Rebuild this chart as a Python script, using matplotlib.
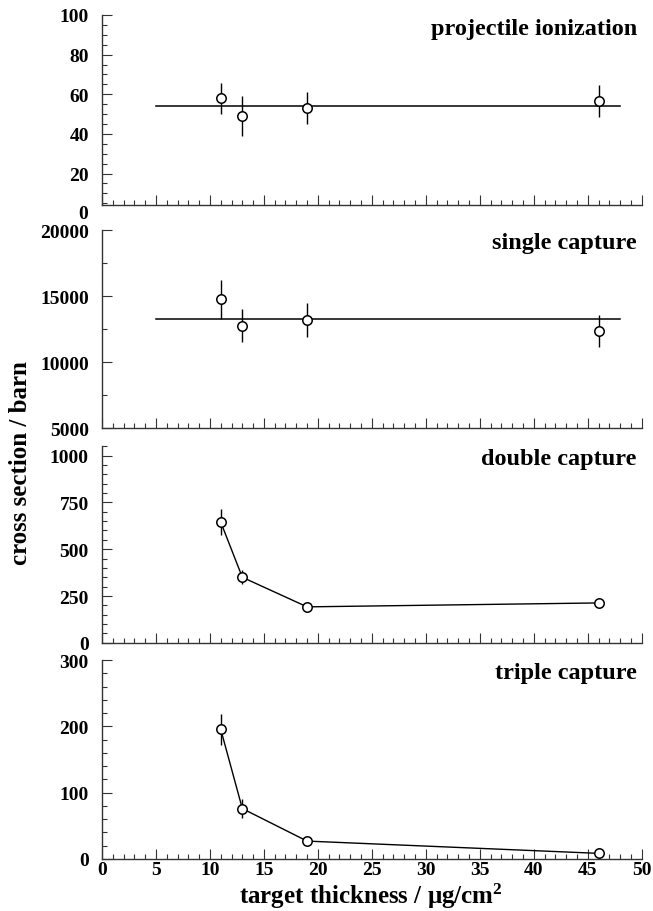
import matplotlib
matplotlib.use("Agg")
import matplotlib.pyplot as plt
from matplotlib.ticker import MultipleLocator
from matplotlib.transforms import blended_transform_factory

plt.rcParams["font.family"] = ["Liberation Serif", "DejaVu Serif"]
plt.rcParams["font.weight"] = "bold"
plt.rcParams["mathtext.fontset"] = "custom"
plt.rcParams["mathtext.rm"] = "Liberation Serif:bold"
plt.rcParams["mathtext.it"] = "Liberation Serif:bold"
plt.rcParams["mathtext.bf"] = "Liberation Serif:bold"

# target thickness (ug/cm^2)
thickness = [11, 13, 19, 46]

# projectile ionization
ion_val = [58.0, 49.0, 53.0, 56.6]
ion_err = [7.8, 10.0, 8.0, 8.0]
ion_fit = 54.0

# single capture
sc_val = [14750, 12770, 13190, 12370]
sc_err = [1460, 1260, 1300, 1200]
sc_fit = 13300

# double capture
dc_val = [645, 350, 192, 213]
dc_err = [68, 37, 12, 10]

# triple capture
tc_val = [195.5, 76.0, 27.0, 8.5]
tc_err = [23.5, 14.0, 3.0, 2.0]

fit_range = [5, 48]

titles = ["projectile ionization", "single capture", "double capture", "triple capture"]
ylims = [(4.3, 100), (5000, 20000), (0, 1053), (0, 300)]
ymajor = [20, 5000, 250, 100]
yminor = [5, 2500, 50, 20]

# axes boxes in pixels (top, bottom) for a 653x912 canvas
boxes_px = [(16, 205.7), (231, 429.3), (446.7, 643.8), (661, 860)]

W, H = 653, 912
fig = plt.figure(figsize=(W / 100, H / 100), dpi=100)
left_px, right_px = 102, 641.7

axes = []
for top, bot in boxes_px:
    ax = fig.add_axes([left_px / W, 1 - bot / H, (right_px - left_px) / W, (bot - top) / H])
    axes.append(ax)

series = [
    (ion_val, ion_err, "fit", ion_fit),
    (sc_val, sc_err, "fit", sc_fit),
    (dc_val, dc_err, "line", None),
    (tc_val, tc_err, "line", None),
]

for i, ax in enumerate(axes):
    vals, errs, kind, fitv = series[i]
    if kind == "fit":
        ax.plot(fit_range, [fitv, fitv], color="black", lw=1.1, zorder=2)
    else:
        ax.plot(thickness, vals, color="black", lw=1.0, zorder=2)
    ax.errorbar(thickness, vals, yerr=errs, fmt="none", ecolor="black",
                elinewidth=1.0, capsize=0, zorder=3)
    ax.plot(thickness, vals, "o", ms=6.8, mfc="white", mec="black", mew=1.1,
            ls="none", zorder=4)

    ax.set_xlim(0, 50)
    ax.set_ylim(*ylims[i])
    ax.xaxis.set_major_locator(MultipleLocator(5))
    ax.xaxis.set_minor_locator(MultipleLocator(1))
    ax.yaxis.set_major_locator(MultipleLocator(ymajor[i]))
    ax.yaxis.set_minor_locator(MultipleLocator(yminor[i]))
    for s in ["top", "right"]:
        ax.spines[s].set_visible(False)
    for s in ["left", "bottom"]:
        ax.spines[s].set_color("#333333")
        ax.spines[s].set_linewidth(1.0)
    ax.tick_params(which="major", direction="in", length=7.5, width=0.8,
                   color="#333333", labelsize=14, pad=9.5)
    ax.tick_params(which="minor", direction="in", length=3.6, width=0.8,
                   color="#333333")
    ax.tick_params(axis="x", pad=1.5)
    if i < 3:
        ax.tick_params(axis="x", labelbottom=False)
    ax.set_facecolor("none")
    ax.text(0.991, 1 - 13 / (boxes_px[i][1] - boxes_px[i][0]), titles[i],
            transform=ax.transAxes, ha="right", va="center", fontsize=17.5,
            fontweight="bold")

# top panel: the axis sits a little above zero, label "0" below it
ax0 = axes[0]
trans = blended_transform_factory(ax0.transAxes, ax0.transData)
ax0.text(-14 / (right_px - left_px), 0, "0", transform=trans, ha="right",
         va="center", fontsize=14, fontweight="bold", clip_on=False)

fig.text(371 / W, 1 - 904 / H, "target thickness / \u03bcg/cm$^2$",
         ha="center", va="baseline", fontsize=18, fontweight="bold")
fig.text(21 / W, 1 - 463 / H, "cross section / barn", rotation=90,
         ha="center", va="center", fontsize=18, fontweight="bold")

fig.savefig("out.png", dpi=100)
